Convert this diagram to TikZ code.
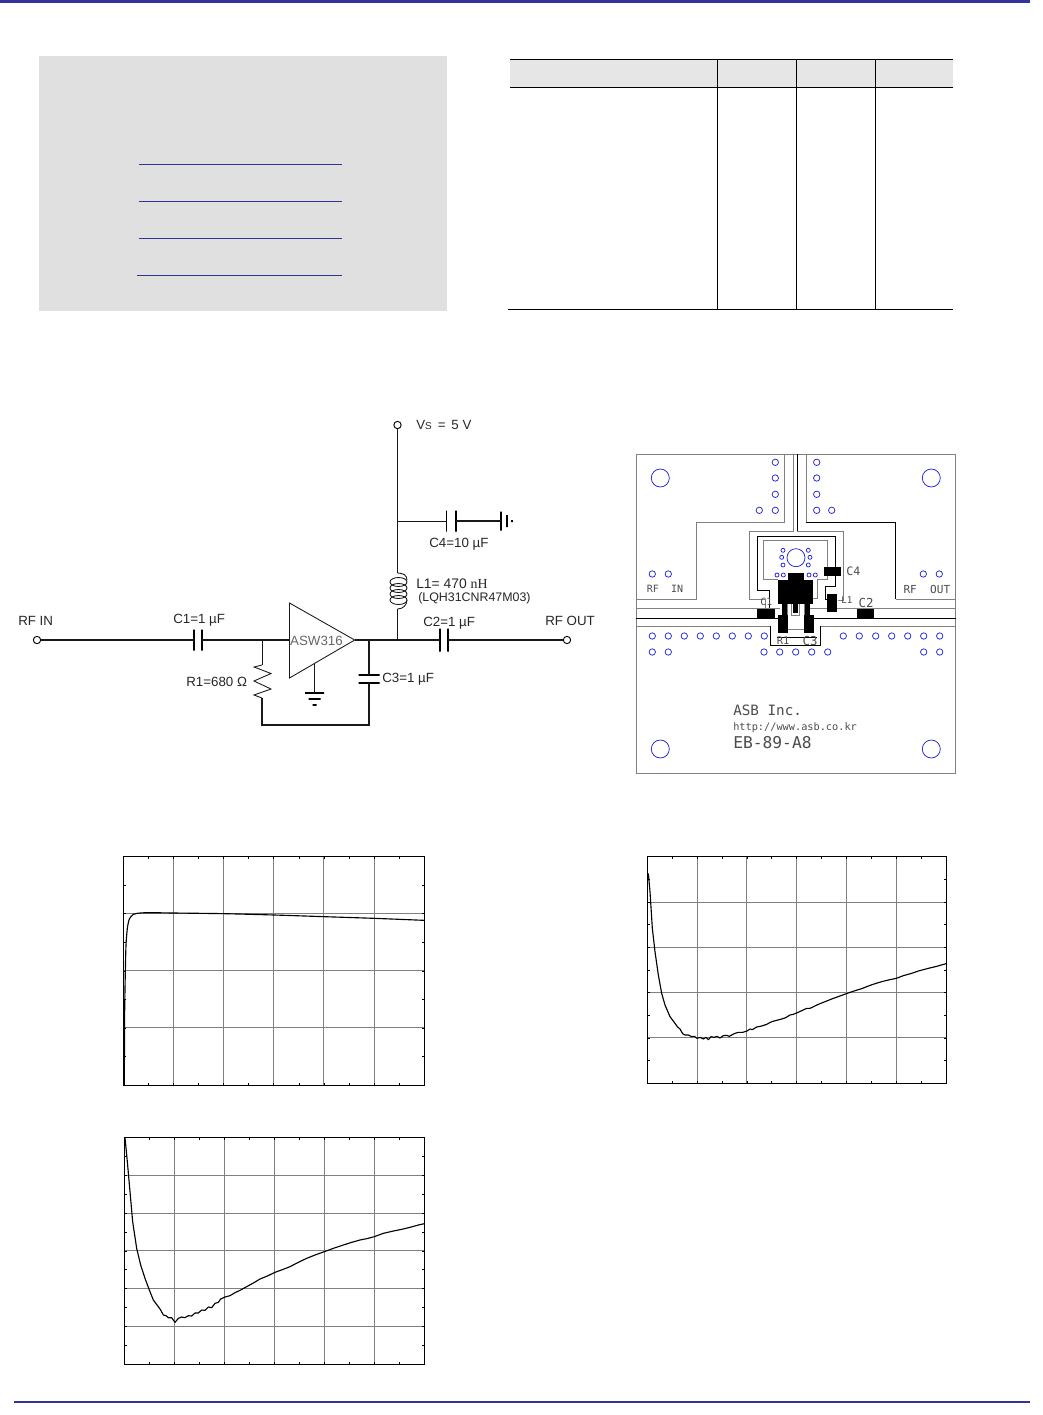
\documentclass[tikz,border=0pt]{standalone}
\usepackage{fontspec}
\setmainfont{Liberation Sans}
\newfontfamily\seriffont{Liberation Serif}
\setmonofont{DejaVu Sans Mono}
\usetikzlibrary{positioning}
\definecolor{barblue}{HTML}{333399}
\definecolor{boxgrey}{HTML}{E0E0E0}
\definecolor{headgrey}{HTML}{E6E6E6}
\definecolor{gridgrey}{HTML}{808080}
\definecolor{viablue}{HTML}{2020E0}

% frame, grid and ticks of one chart: left, top, right, bottom, columns, rows
\newcommand{\chartgrid}[6]{
	\pgfmathtruncatemacro{\lastcol}{#5-1}
	\pgfmathtruncatemacro{\lastrow}{#6-1}
	\pgfmathtruncatemacro{\lastxtick}{2*#5-1}
	\pgfmathtruncatemacro{\lastytick}{2*#6-1}
	\foreach \i in {1,...,\lastcol}{
		\pgfmathsetmacro{\gx}{#1+(#3-#1)*\i/#5}
		\draw[gridln] (\gx,#2) -- (\gx,#4);
	}
	\foreach \i in {1,...,\lastrow}{
		\pgfmathsetmacro{\gy}{#2+(#4-#2)*\i/#6}
		\draw[gridln] (#1,\gy) -- (#3,\gy);
	}
	\foreach \i in {1,...,\lastxtick}{
		\pgfmathsetmacro{\gx}{#1+(#3-#1)*\i/(2*#5)}
		\draw[tickln] (\gx,#2) -- ++(0,2.5);
		\draw[tickln] (\gx,#4) -- ++(0,-2.5);
	}
	\foreach \i in {1,...,\lastytick}{
		\pgfmathsetmacro{\gy}{#2+(#4-#2)*\i/(2*#6)}
		\draw[tickln] (#1,\gy) -- ++(2.5,0);
		\draw[tickln] (#3,\gy) -- ++(-2.5,0);
	}
	\draw[frameln] (#1,#2) rectangle (#3,#4);
}

\begin{document}
\begin{tikzpicture}[
		x=0.75pt, y=-0.75pt,
		every node/.style={font=\fontsize{10}{12}\selectfont, inner sep=0pt, text=black!85},
		lbl/.style={anchor=west},
		term/.style={draw, circle, fill=white, minimum size=5.5pt, line width=0.7pt},
		plateV/.style={draw, minimum width=0pt, minimum height=#1*0.75pt, line width=0.9pt},
		plateH/.style={draw, minimum height=0pt, minimum width=#1*0.75pt, line width=0.9pt},
		wire/.style={line width=0.9pt, black!90},
		thinwire/.style={line width=0.65pt, black!90},
		blueln/.style={line width=0.75pt, barblue},
		tableln/.style={line width=0.75pt, black},
		gridln/.style={line width=0.75pt, gridgrey},
		tickln/.style={line width=0.5pt, black},
		frameln/.style={line width=0.75pt, black},
		curve/.style={line width=0.85pt, black, line join=round},
		pcbgrey/.style={line width=0.75pt, gridgrey},
		pcbblack/.style={line width=0.75pt, black},
		pad/.style={fill=black},
		via/.style={line width=0.55pt, viablue},
		pcbtext/.style={anchor=west, text=black!70, font=\ttfamily\fontsize{#1}{#1}\selectfont}
		]
		\useasboundingbox (0,0) rectangle (1043,1415);
		% page rules
		\fill[barblue] (0,0) rectangle (1030,3);
		\fill[barblue] (14,1401) rectangle (1030,1403);
		
		% grey box with its blue lines
		\fill[boxgrey] (39.3,56) rectangle (447.3,311);
		\foreach \ly in {164.3,201.3,238.3}
			\draw[blueln] (139.3,\ly) -- (342.3,\ly);
		\draw[blueln] (137.3,275.3) -- (342.3,275.3);
		
		% table
		\fill[headgrey] (510,59.5) rectangle (953,87.5);
		\draw[tableln] (510,59.5) -- (953,59.5);
		\draw[tableln] (510,87.5) -- (953,87.5);
		\draw[tableln] (508,309.5) -- (953,309.5);
		\foreach \lx in {717.5,796.5,875.5}
			\draw[tableln] (\lx,59.5) -- (\lx,309.5);
		
		% schematic
		\node[term] (rfin) at (37,640) {};
		\node[term] (rfout) at (567,640) {};
		\node[term] (vs) at (397.5,425) {};
		\node[plateV=21] (c1a) at (194,640) {};
		\node[plateV=21] (c1b) at (202,640) {};
		\node[plateV=23] (c2a) at (440,640) {};
		\node[plateV=23] (c2b) at (448,640) {};
		\node[plateV=21] (c4a) at (446.5,521) {};
		\node[plateV=21] (c4b) at (456,521) {};
		\node[plateV=19] (gndf) at (501,521) {};
		\node[plateV=12] (gndg) at (507,521) {};
		\node[plateV=2] (gndh) at (512,521) {};
		\node[plateH=21] (c3a) at (369,675) {};
		\node[plateH=21] (c3b) at (369,683) {};
		\node[plateH=19] (gnda) at (314.5,693) {};
		\node[plateH=12] (gndb) at (314.5,699) {};
		\node[plateH=4] (gndc) at (314.5,705) {};
		\coordinate (juncr) at (262,640);
		\coordinate (juncc) at (369,640);
		\coordinate (juncl) at (397.5,640);
		\coordinate (juncf) at (397.5,521);
		\coordinate (coiltop) at (397.5,573);
		\coordinate (coilbot) at (397.5,609);
		\coordinate (rtop) at (262,665);
		\coordinate (rbot) at (262,698);
		\coordinate (loopl) at (262,725);
		\coordinate (loopr) at (369,725);
		\coordinate (amptop) at (289.5,603);
		\coordinate (ampbot) at (289.5,678);
		\coordinate (amptip) at (354.7,640);
		\coordinate (ampin) at (289.5,640);
		\coordinate (ampfoot) at (314.5,664);
		
		\draw[thinwire] (amptop) -- (ampbot) -- (amptip) -- cycle;
		\draw[wire] (rfin) -- (c1a.center);
		\draw[wire] (c1b.center) -- (juncr) -- (ampin);
		\draw[wire] (amptip) -- (juncc) -- (juncl) -- (c2a.center);
		\draw[wire] (c2b.center) -- (rfout);
		\draw[wire] (vs) -- (juncf) -- (coiltop);
		\draw[wire] (coilbot) -- (juncl);
		\draw[thinwire] (juncf) -- (c4a.center);
		\draw[wire] (c4b.center) -- (gndf.center);
		\draw[thinwire] (juncr) -- (rtop);
		\draw[thinwire] (rtop) -- (254,667) -- (271,673.5) -- (254,681) -- (271,689) -- (254,695) -- (rbot);
		\draw[wire] (rbot) -- (loopl) -- (loopr) -- (c3b.center);
		\draw[wire] (c3a.center) -- (juncc);
		\draw[thinwire] (ampfoot) -- (gnda.center);
		% inductor
		\foreach \cy in {582,588,594,600}
			\draw[thinwire] (398.5,\cy) ellipse [x radius=8.5, y radius=4.5];
		\draw[thinwire] (coiltop) .. controls (403,573) and (407,575) .. (407,580);
		\draw[thinwire] (407,600) .. controls (407,605) and (403,609) .. (coilbot);
		
		\node[lbl] (vslabel) at (416,425) {V{\fontsize{7.5}{9}\selectfont S} \,=\, 5 V};
		\node[lbl] (rfinlabel) at (18,620.5) {RF IN};
		\node[lbl] (rfoutlabel) at (545,620.5) {RF OUT};
		\node[lbl] (c1label) at (173,620.5) {C1=1 µF};
		\node[lbl] (c2label) at (423,623.5) {C2=1 µF};
		\node[lbl] (c3label) at (382,679) {C3=1 µF};
		\node[lbl] (c4label) at (429,544) {C4=10 µF};
		\node[lbl] (r1label) at (186,682) {R1=680 Ω};
		\node[lbl, font=\fontsize{10.4}{12}\selectfont] (l1label) at (416,584) {L1= 470 {\seriffont nH}};
		\node[lbl, font=\fontsize{9.3}{11}\selectfont] (partlabel) at (418,598.5) {(LQH31CNR47M03)};
		\node[text=black!60] (amplabel) at (316.5,640.5) {ASW316};
		
		% board outline and traces
		\draw[pcbgrey] (636,454) rectangle (955.5,773);
		\draw[pcbgrey] (784.3,454) -- (784.3,522) -- (696.7,522) -- (696.7,599) -- (636,599);
		\draw[pcbgrey] (806,454) -- (806,522);
		\draw[pcbblack] (806,522) -- (895.7,522) -- (895.7,599);
		\draw[pcbgrey] (895.7,599) -- (955.5,599);
		\draw[pcbgrey] (793.3,454) -- (793.3,531.7) -- (749.3,531.7) -- (749.3,599.3) -- (765,599.3) -- (765,608.3);
		\draw[pcbblack] (797.3,454) -- (797.3,531.7);
		\draw[pcbgrey] (797.3,531.7) -- (843.3,531.7) -- (843.3,600) -- (838,600);
		\draw[pcbblack] (769.3,608.3) -- (769.3,590) -- (757,590) -- (757,536) -- (835.7,536) -- (835.7,566.7);
		\draw[pcbblack] (835.7,576) -- (835.7,586.7) -- (825,586.7) -- (825,599.3) -- (827,599.3);
		\draw[pcbgrey] (778.3,579.3) -- (763.3,579.3) -- (763.3,540.7) -- (827.7,540.7) -- (827.7,566.7);
		\draw[pcbgrey] (827.7,576.3) -- (827.7,579.3) -- (817.3,579.3) -- (817.3,598.3) -- (812,598.3);
		\draw[pcbgrey] (636,608.3) -- (780,608.3);
		\draw[pcbgrey] (810,608.3) -- (955.5,608.3);
		\draw[pcbblack] (636,618.3) -- (778,618.3);
		\draw[pcbblack] (813,618.3) -- (955.5,618.3);
		\draw[pcbgrey] (636,626.3) -- (770.7,626.3);
		\draw[pcbgrey] (820.7,626.3) -- (955.5,626.3);
		\draw[pcbblack] (770.7,626.3) -- (770.7,645) -- (820.7,645) -- (820.7,626.3);
		\draw[pcbgrey] (787.3,604) -- (787.3,629.3) -- (804,629.3) -- (804,604);
		\draw[pcbblack] (776.7,637) -- (816.7,637);
		\draw[pcbgrey] (791.7,604) -- (791.7,615) -- (799.3,615) -- (799.3,604);
		
		% parts on the board
		\fill[pad] (788.3,572.7) rectangle (804,580);
		\fill[pad] (778.3,580) rectangle (812.7,603.7);
		\fill[pad] (781.7,603.7) rectangle (786.7,616.7);
		\fill[pad] (805,603.7) rectangle (810,616.7);
		\fill[pad] (793.3,603.7) rectangle (798.3,613.3);
		\fill[pad] (778.3,615) rectangle (787.7,632.7);
		\fill[pad] (804,615) rectangle (813.7,632.7);
		\fill[pad] (757.3,608.7) rectangle (775,618.3);
		\fill[pad] (857.3,608.7) rectangle (874,618.3);
		\fill[pad] (823.7,566.7) rectangle (841,576.3);
		\fill[pad] (827,594) rectangle (837,611.7);
		
		% vias
		\foreach \vx/\vy in {660.3/478,931.3/478,660.3/749,931.3/749,796/557.7}
			\draw[via] (\vx,\vy) circle (9);
		\foreach \vy in {462.3,478,494.3,510.3}{
			\draw[via] (775.3,\vy) circle (3.2);
			\draw[via] (816.7,\vy) circle (3.2);
		}
		\foreach \vx/\vy in {759.3/510.3,831.7/510.3,652.3/574,668.3/574,923.3/574,939.3/574,652.3/652,668.3/652,923.7/652,939.7/652}
			\draw[via] (\vx,\vy) circle (3.2);
		\foreach \vx in {652.3,668.3,684.3,700.3,716.3,732.3,748.3,764.3,843.3,859.3,875.7,891.7,907.7,923.7,939.7}
			\draw[via] (\vx,636) circle (3.2);
		\foreach \vx in {764,779.7,795.7,811.7,827.7}
			\draw[via] (\vx,652) circle (3.2);
		\foreach \vx/\vy in {783/550.3,781.7/557.3,783/565,808.3/550.3,810/557.3,808.3/565,777/575,783.3/575,809/575,815.3/575}
			\draw[via] (\vx,\vy) circle (2);
		
		% board lettering
		\node[pcbtext=7.5] (pcbrfin) at (646.7,588.7) {RF\ \ IN};
		\node[pcbtext=8.3] (pcbrfout) at (903.3,589) {RF\ \ OUT};
		\node[pcbtext=7.5] (pcbcone) at (760,602) {C1};
		\node[pcbtext=9.3] (pcbctwo) at (858.3,602.7) {C2};
		\node[pcbtext=8.7] (pcbcfour) at (846,571.7) {C4};
		\node[pcbtext=6.9] (pcblone) at (841,600.3) {L1};
		\node[pcbtext=7.8] (pcbrone) at (776.7,640.7) {R1};
		\node[pcbtext=9.3] (pcbcthree) at (802.3,640.7) {C3};
		\node[pcbtext=10.7] (pcbname) at (733,710) {ASB Inc.};
		\node[pcbtext=7.7] (pcburl) at (733,728) {http://www.asb.co.kr};
		\node[pcbtext=12.2] (pcbcode) at (733,743) {EB-89-A8};
		
		% charts
		\chartgrid{123.3}{856.7}{424.3}{1085}{6}{4}
		\begin{scope}[shift={(110,845)}, x=0.25pt, y=-0.25pt]
			\draw[curve] plot[smooth, tension=0.4] coordinates {(43,720) (44,500) (46,380) (48,300) (52,250) (58,222) (70,208) (90,204) (120,203) (192,204) (343,206) (493,210) (643,215) (793,220) (943,226)};
		\end{scope}
		\chartgrid{647.3}{856.7}{946}{1083.3}{6}{5}
		\begin{scope}[shift={(635,845)}, x=0.25pt, y=-0.25pt]
			\draw[curve] plot coordinates {(40,85) (45,140) (52,250) (60,320) (70,390) (80,445) (90,480) (105,515) (120,535) (127,545) (135,552) (143,566) (150,570) (160,570) (170,575) (178,574) (186,580) (196,577) (205,582) (213,577) (220,584) (228,575) (237,577) (246,574) (255,579) (265,572) (275,571) (283,574) (290,570) (300,565) (310,562) (323,562) (336,558) (345,552) (352,554) (365,546) (380,543) (395,538) (410,530) (425,526) (440,522) (452,518) (465,510) (475,508) (487,503) (500,497) (515,490) (525,490) (550,478) (570,470) (590,462) (612,454) (634,446) (660,437) (680,431) (700,423) (720,416) (740,410) (760,405) (784,400) (805,392) (830,385) (850,378) (880,370) (905,364) (933,356)};
		\end{scope}
		\chartgrid{124.3}{1137.7}{424.3}{1364}{6}{6}
		\begin{scope}[shift={(110,1125)}, x=0.25pt, y=-0.25pt]
			\draw[curve] plot coordinates {(45,38) (52,110) (60,200) (68,290) (80,370) (92,420) (105,460) (118,495) (130,525) (145,545) (152,555) (160,570) (168,572) (175,578) (185,578) (195,592) (205,580) (215,576) (225,578) (235,572) (245,573) (255,564) (265,564) (275,555) (285,556) (295,546) (305,548) (315,535) (325,532) (332,522) (345,516) (360,512) (375,503) (392,495) (410,485) (430,474) (450,462) (472,453) (495,442) (517,434) (540,425) (565,412) (590,400) (615,390) (643,380) (670,370) (700,360) (725,352) (750,345) (770,341) (793,335) (820,325) (850,318) (875,313) (900,307) (925,300) (943,296)};
		\end{scope}
	\end{tikzpicture}
\end{document}
